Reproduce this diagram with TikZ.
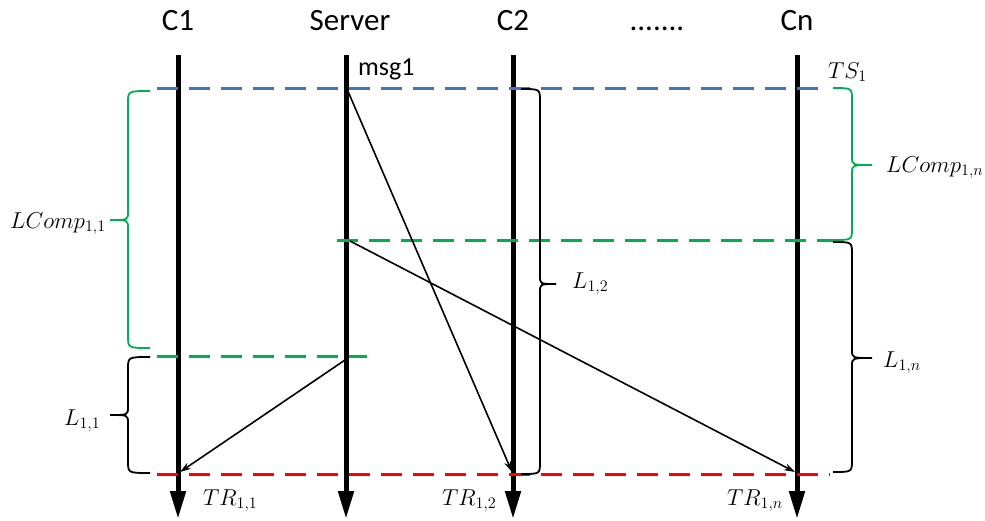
\RequirePackage{fix-cm}
\documentclass[tikz,border=0pt]{standalone}
\usepackage{fontspec}
\setmainfont{Carlito}
\usetikzlibrary{arrows.meta}
\definecolor{myblue}{RGB}{68,114,196}
\definecolor{mygreen}{RGB}{0,176,80}
\definecolor{myred}{RGB}{255,0,0}
\newcommand{\mybrace}[7]{%
  \draw[brc,#1] (#2,#5) .. controls (#3,#5) .. (#3,#5+12) -- (#3,#6-8)
    .. controls (#3,#6) .. (#4,#6) .. controls (#3,#6) .. (#3,#6+8)
    -- (#3,#7-12) .. controls (#3,#7) .. (#2,#7);}
\begin{document}
\begin{tikzpicture}[x=1pt,y=-1pt,
  life/.style={line width=5pt,-{Triangle[length=28pt,width=15pt]}},
  hdr/.style={font=\fontsize{31}{37}\selectfont,anchor=base,inner sep=0pt},
  dline/.style={line width=3pt,dash pattern=on 21pt off 11pt},
  msgarrow/.style={line width=1.6pt,-{Stealth[length=11pt,width=7pt]}},
  mlab/.style={font=\fontsize{23}{27}\selectfont,anchor=base west,inner sep=0pt},
  brc/.style={line width=1.8pt}]
\useasboundingbox[fill=white] (0,0) rectangle (985,520);
% headers
\node[hdr] (h1) at (178,30) {C1};
\node[hdr] (hs) at (350,30) {Server};
\node[hdr] (h2) at (513,30) {C2};
\node[hdr] (hd) at (657,30) {.......};
\node[hdr] (hn) at (797,30) {Cn};
% lifeline endpoints
\coordinate (c1t) at (178,55); \coordinate (c1b) at (178,519);
\coordinate (st) at (346,55);  \coordinate (sb) at (346,519);
\coordinate (c2t) at (513,55); \coordinate (c2b) at (513,519);
\coordinate (cnt) at (797,55); \coordinate (cnb) at (797,519);
\draw[life] (c1t) -- (c1b);
\draw[life] (st) -- (sb);
\draw[life] (c2t) -- (c2b);
\draw[life] (cnt) -- (cnb);
% dashed time lines
\coordinate (b1) at (157,88);  \coordinate (b2) at (828,88);
\coordinate (g1) at (337,240); \coordinate (g2) at (833,240);
\coordinate (g3) at (157,356); \coordinate (g4) at (367,356);
\coordinate (r1) at (157,474); \coordinate (r2) at (830,474);
\draw[dline,myblue] (b1) -- (b2);
\draw[dline,mygreen] (g1) -- (g2);
\draw[dline,mygreen] (g3) -- (g4);
\draw[dline,myred] (r1) -- (r2);
% braces
\mybrace{mygreen}{150}{128}{110}{91}{220}{348}
\mybrace{black}{150}{128}{110}{357}{415}{473}
\mybrace{black}{521}{540}{556}{89}{284}{474}
\mybrace{mygreen}{833}{852}{872}{88}{165}{240}
\mybrace{black}{833}{852}{872}{242}{358}{472}
% messages
\coordinate (s1) at (347,89);  \coordinate (e2) at (512,472);
\coordinate (s2) at (350,241); \coordinate (en) at (795,472);
\coordinate (s3) at (345,360); \coordinate (e1) at (180,472);
\draw[msgarrow] (s1) -- (e2);
\draw[msgarrow] (s2) -- (en);
\draw[msgarrow] (s3) -- (e1);
% labels
\node[anchor=base west,inner sep=0pt,font=\fontsize{26}{30}\selectfont] (msg) at (358,75) {msg1};
\node[mlab] (ts) at (828,78) {$TS_1$};
\node[mlab] (lc11) at (10,228) {$LComp_{1,1}$};
\node[mlab] (lc1n) at (886,172) {$LComp_{1,n}$};
\node[mlab] (l11) at (64,425) {$L_{1,1}$};
\node[mlab] (l12) at (572,288) {$L_{1,2}$};
\node[mlab] (l1n) at (883,367) {$L_{1,n}$};
\node[mlab] (tr11) at (203,505) {$TR_{1,1}$};
\node[mlab] (tr12) at (442,505) {$TR_{1,2}$};
\node[mlab] (tr1n) at (727,505) {$TR_{1,n}$};
\end{tikzpicture}
\end{document}
